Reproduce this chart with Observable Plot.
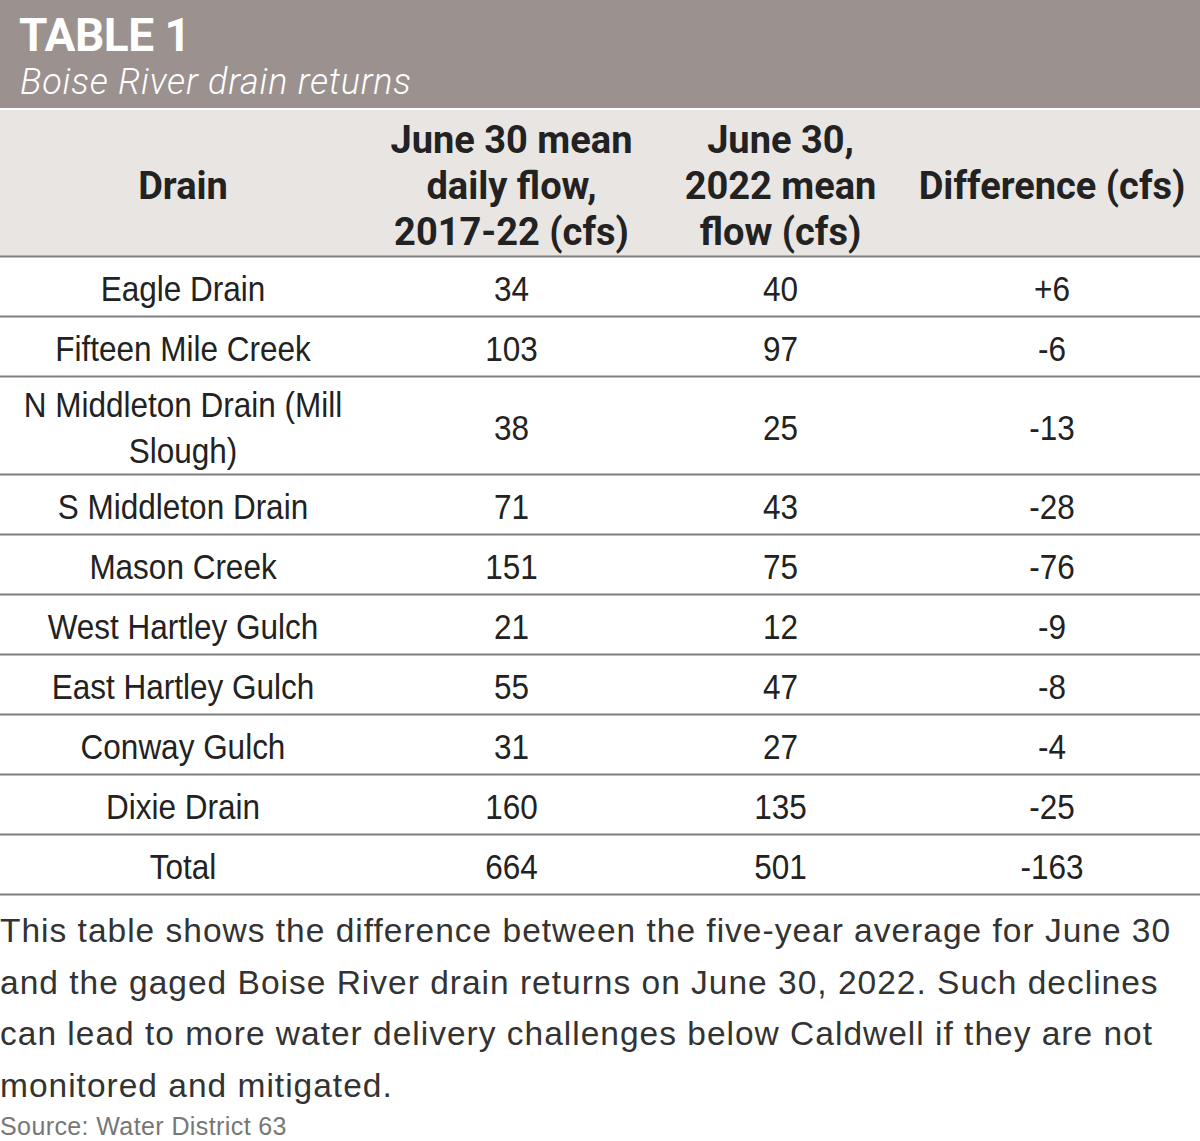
<!DOCTYPE html>
<html>
<head>
<meta charset="utf-8">
<script src="https://cdn.jsdelivr.net/npm/d3@7"></script>
<script src="https://cdn.jsdelivr.net/npm/@observablehq/plot@0.6"></script>
<style>
  html, body { margin: 0; padding: 0; background: #fff; }
  #wrap { width: 1200px; }
  #banner { height: 108px; background: #9b918e; color: #fff; position: relative; }
  #title { position: absolute; left: 19px; top: 12px; font-family: Roboto, "Open Sans", sans-serif; font-weight: 700; font-size: 46px; line-height: 1; letter-spacing: -0.5px; white-space: nowrap; }
  #subtitle { position: absolute; left: 20px; top: 64px; font-family: Roboto, "Open Sans", sans-serif; font-weight: 300; font-style: italic; font-size: 36px; line-height: 1; letter-spacing: 0.8px; white-space: nowrap; }
  #chart svg { display: block; }
  #caption { margin-top: 9px; font-family: "Liberation Sans", Arial, sans-serif; font-size: 33.5px; line-height: 51.5px; color: #333; letter-spacing: 1.0px; white-space: nowrap; }
  #source { margin-top: 3px; font-family: "Liberation Sans", Arial, sans-serif; font-size: 25px; line-height: 24px; color: #777; letter-spacing: 0.4px; white-space: nowrap; }
</style>
</head>
<body>
<div id="wrap">
  <div id="banner"><div id="title">TABLE 1</div><div id="subtitle">Boise River drain returns</div></div>
  <div id="chart"></div>
  <div id="caption"></div>
  <div id="source"></div>
</div>
<script>
// ---- data ----
const titleText = "TABLE 1";
const subtitleText = "Boise River drain returns";
const columnHeaders = ["Drain", "June 30 mean\ndaily flow,\n2017-22 (cfs)", "June 30,\n2022 mean\nflow (cfs)", "Difference (cfs)"];
const drains = ["Eagle Drain", "Fifteen Mile Creek", "N Middleton Drain (Mill\nSlough)", "S Middleton Drain", "Mason Creek", "West Hartley Gulch", "East Hartley Gulch", "Conway Gulch", "Dixie Drain", "Total"];
const meanDaily2017_22 = [34, 103, 38, 71, 151, 21, 55, 31, 160, 664];
const meanFlow2022 = [40, 97, 25, 43, 75, 12, 47, 27, 135, 501];
const differenceCfs = [6, -6, -13, -28, -76, -9, -8, -4, -25, -163];
const captionLines = [
  "This table shows the difference between the five-year average for June 30",
  "and the gaged Boise River drain returns on June 30, 2022. Such declines",
  "can lead to more water delivery challenges below Caldwell if they are not",
  "monitored and mitigated."
];
const sourceText = "Source: Water District 63";

document.getElementById("title").textContent = titleText;
document.getElementById("subtitle").textContent = subtitleText;
const cap = document.getElementById("caption");
captionLines.forEach(l => { const d = document.createElement("div"); d.textContent = l; cap.appendChild(d); });
document.getElementById("source").textContent = sourceText;

// ---- layout ----
const W = 1200;
const colWidths = [365, 292, 246, 297];
const colEdges = colWidths.reduce((a, w) => (a.push(a[a.length - 1] + w), a), [0]);
const colCenters = colWidths.map((w, i) => colEdges[i] + w / 2);
const headerTop = 2, headerH = 146;
const rowBase = 60, rowExtraLine = 38;

const fmtDiff = d => (d > 0 ? "+" : "") + d;
const rows = [];
let yCursor = headerTop + headerH;
const boundaries = [yCursor];
drains.forEach((name, i) => {
  const lines = name.split("\n").length;
  const h = rowBase + rowExtraLine * (lines - 1);
  const cy = yCursor + h / 2;
  const vals = [name, String(meanDaily2017_22[i]), String(meanFlow2022[i]), fmtDiff(differenceCfs[i])];
  vals.forEach((v, c) => rows.push({x: colCenters[c], y: cy, text: v}));
  yCursor += h;
  boundaries.push(yCursor);
});
const H = yCursor + 2;
const headerCells = columnHeaders.map((t, c) => ({x: colCenters[c], y: headerTop + headerH / 2 + 1, text: t}));

const chart = Plot.plot({
  width: W,
  height: H,
  margin: 0,
  x: {domain: [0, W], range: [0, W], axis: null},
  y: {domain: [0, H], range: [0, H], axis: null},
  style: {background: "transparent"},
  marks: [
    Plot.rect([{x1: 0, x2: W, y1: headerTop, y2: headerTop + headerH}], {x1: "x1", x2: "x2", y1: "y1", y2: "y2", fill: "#e8e5e3"}),
    Plot.ruleY(boundaries, {y: d => d, x1: 0, x2: W, stroke: "#7f7f7f", strokeWidth: 2}),
    Plot.text(headerCells, {x: "x", y: "y", text: "text", fontFamily: "Roboto, sans-serif", fontWeight: 700, fontSize: 38, lineHeight: 1.21, fill: "#222", textAnchor: "middle"}),
    Plot.text(rows, {x: "x", y: "y", text: "text", fontFamily: '"Liberation Sans", Arial, sans-serif', fontSize: 36, lineHeight: 1.28, fill: "#222", textAnchor: "middle"})
  ]
});

// condense the body text horizontally (narrow typeface look)
const textGroups = chart.querySelectorAll('g[aria-label="text"]');
const bodyGroup = textGroups[textGroups.length - 1];
bodyGroup.querySelectorAll("text").forEach(el => {
  const t = el.getAttribute("transform");
  if (t) {
    el.setAttribute("transform", t + " scale(0.875,1)");
  } else {
    const x = +el.getAttribute("x") || 0, y = +el.getAttribute("y") || 0;
    el.removeAttribute("x"); el.removeAttribute("y");
    el.setAttribute("transform", `translate(${x},${y}) scale(0.875,1)`);
  }
});
document.getElementById("chart").appendChild(chart);
</script>
</body>
</html>
